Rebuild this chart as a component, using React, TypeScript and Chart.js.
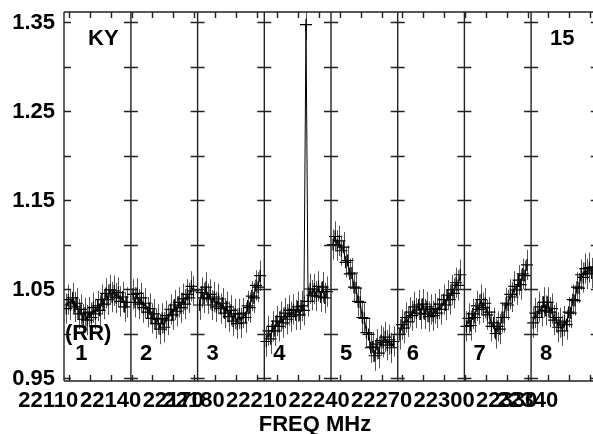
import React, { useEffect, useRef } from 'react';
import { Chart, registerables } from 'chart.js';

Chart.register(...registerables);

// ---- data ----
const PANEL_START_MHZ = [22117.7, 22149.7, 22181.7, 22213.7, 22245.7, 22277.7, 22309.7, 22341.7];
const PANEL_END_MHZ = 22373.7;
const CHANNEL_OFFSET_MHZ = [1, 2, 3, 4, 5, 6, 7, 8, 9, 10, 11, 12, 13, 14, 15, 16, 17, 18, 19, 20, 21, 22, 23, 24, 25, 26, 27, 28, 29, 30];
const PANEL_NAMES = ['1', '2', '3', '4', '5', '6', '7', '8'];

const P1 = [1.028, 1.038, 1.032, 1.040, 1.030, 1.034, 1.022, 1.027, 1.016, 1.023, 1.015, 1.024, 1.018, 1.029, 1.022, 1.031, 1.026, 1.038, 1.033, 1.045, 1.038, 1.049, 1.041, 1.048, 1.040, 1.046, 1.036, 1.041, 1.030, 1.035];
const P2 = [1.044, 1.035, 1.045, 1.033, 1.040, 1.029, 1.034, 1.024, 1.028, 1.017, 1.022, 1.011, 1.016, 1.005, 1.017, 1.007, 1.020, 1.015, 1.027, 1.021, 1.032, 1.025, 1.035, 1.029, 1.039, 1.033, 1.044, 1.040, 1.053, 1.048];
const P3 = [1.032, 1.046, 1.040, 1.052, 1.039, 1.044, 1.032, 1.041, 1.030, 1.039, 1.028, 1.034, 1.023, 1.030, 1.019, 1.026, 1.014, 1.022, 1.011, 1.022, 1.012, 1.023, 1.018, 1.031, 1.029, 1.042, 1.040, 1.054, 1.052, 1.065];
const P4 = [0.991, 1.003, 0.994, 1.008, 1.003, 1.014, 1.008, 1.019, 1.012, 1.023, 1.016, 1.026, 1.019, 1.027, 1.021, 1.030, 1.021, 1.031, 1.026, 1.347, 1.036, 1.050, 1.043, 1.050, 1.042, 1.053, 1.041, 1.052, 1.040, 1.047];
const P5 = [1.100, 1.109, 1.099, 1.104, 1.093, 1.097, 1.080, 1.082, 1.067, 1.068, 1.052, 1.051, 1.036, 1.035, 1.018, 1.017, 1.001, 0.999, 0.984, 0.985, 0.975, 0.988, 0.978, 0.992, 0.990, 0.996, 0.987, 0.993, 0.984, 0.991];
const P6 = [0.999, 1.010, 1.006, 1.018, 1.013, 1.024, 1.020, 1.030, 1.023, 1.032, 1.022, 1.033, 1.022, 1.030, 1.019, 1.027, 1.020, 1.028, 1.023, 1.033, 1.027, 1.038, 1.032, 1.043, 1.038, 1.049, 1.045, 1.057, 1.054, 1.066];
const P7 = [1.008, 1.017, 1.009, 1.022, 1.018, 1.031, 1.027, 1.038, 1.029, 1.034, 1.021, 1.024, 1.008, 1.012, 1.000, 1.008, 1.005, 1.018, 1.018, 1.034, 1.032, 1.044, 1.041, 1.053, 1.049, 1.060, 1.055, 1.067, 1.065, 1.077];
const P8 = [1.012, 1.023, 1.018, 1.030, 1.025, 1.035, 1.026, 1.035, 1.024, 1.028, 1.015, 1.018, 1.007, 1.012, 1.003, 1.014, 1.010, 1.024, 1.023, 1.038, 1.037, 1.052, 1.051, 1.066, 1.063, 1.073, 1.067, 1.074, 1.068, 1.075];
const PANEL_VALUES = [P1, P2, P3, P4, P5, P6, P7, P8];
const PANEL_ERR = [0.017, 0.017, 0.017, 0.017, 0.017, 0.017, 0.017, 0.017];

const X_MIN = 22117.6;
const X_MAX = 22371.4;
const Y_MIN = 0.94663;
const Y_MAX = 1.36124;
const X_TICK_MHZ = [22120, 22130, 22140, 22150, 22160, 22170, 22180, 22190, 22200, 22210, 22220, 22230, 22240, 22250, 22260, 22270, 22280, 22290, 22300, 22310, 22320, 22330, 22340, 22350, 22360, 22370];
const X_LABEL_MHZ = [22110, 22140, 22170, 22180, 22210, 22240, 22270, 22300, 22330, 22340];
const Y_TICKS = [0.95, 1.0, 1.05, 1.1, 1.15, 1.2, 1.25, 1.3, 1.35];
const Y_LABELS = [0.95, 1.05, 1.15, 1.25, 1.35];
const X_TITLE = 'FREQ MHz';
const SOURCE_NAME = 'KY';
const SCAN_NO = '15';
const POL = '(RR)';

const FONT = 'bold 22px "Liberation Sans", Arial, Helvetica, sans-serif';

const framePlugin = {
  id: 'framePlugin',
  beforeDatasetsDraw(chart: any) {
    const { ctx, chartArea: a } = chart;
    const ys = chart.scales.y;
    ctx.save();
    ctx.beginPath();
    ctx.rect(a.left, a.top, a.right - a.left, a.bottom - a.top);
    ctx.clip();
    ctx.strokeStyle = '#555';
    ctx.lineWidth = 1;
    PANEL_VALUES.forEach((vals, i) => {
      const meta = chart.getDatasetMeta(i);
      vals.forEach((v, k) => {
        const el = meta.data[k];
        if (!el) return;
        const px = Math.round(el.x) + 0.5;
        ctx.beginPath();
        ctx.moveTo(px, ys.getPixelForValue(v - PANEL_ERR[i]));
        ctx.lineTo(px, ys.getPixelForValue(v + PANEL_ERR[i]));
        ctx.stroke();
      });
    });
    ctx.restore();
  },
  afterDatasetsDraw(chart: any) {
    const { ctx, chartArea: a } = chart;
    const xs = chart.scales.x;
    const ys = chart.scales.y;
    ctx.save();
    ctx.strokeStyle = '#222';
    ctx.lineWidth = 1.4;
    // frame
    ctx.beginPath();
    ctx.moveTo(a.left, a.top);
    ctx.lineTo(a.right, a.top);
    ctx.moveTo(a.left, a.bottom);
    ctx.lineTo(a.right, a.bottom);
    ctx.moveTo(a.left, a.top);
    ctx.lineTo(a.left, a.bottom);
    ctx.stroke();
    // left axis ticks
    ctx.beginPath();
    Y_TICKS.forEach((t) => {
      const py = Math.round(ys.getPixelForValue(t)) + 0.5;
      ctx.moveTo(a.left, py);
      ctx.lineTo(a.left + 7, py);
    });
    ctx.stroke();
    // separators
    const seps = [...PANEL_START_MHZ.slice(1), PANEL_END_MHZ];
    seps.forEach((f) => {
      const sx = xs.getPixelForValue(f);
      ctx.beginPath();
      if (sx <= a.right) {
        ctx.moveTo(sx, a.top);
        ctx.lineTo(sx, a.bottom);
      }
      Y_TICKS.forEach((t) => {
        const py = Math.round(ys.getPixelForValue(t)) + 0.5;
        ctx.moveTo(Math.max(sx - 7, a.left), py);
        ctx.lineTo(Math.min(sx + 7, a.right), py);
      });
      ctx.stroke();
    });
    // top / bottom ticks
    ctx.beginPath();
    X_TICK_MHZ.forEach((f) => {
      const px = Math.round(xs.getPixelForValue(f)) + 0.5;
      if (px > a.right) return;
      ctx.moveTo(px, a.top);
      ctx.lineTo(px, a.top + 6);
      ctx.moveTo(px, a.bottom);
      ctx.lineTo(px, a.bottom - 6);
    });
    ctx.stroke();

    // text
    ctx.fillStyle = '#000';
    ctx.font = FONT;
    ctx.textAlign = 'right';
    ctx.textBaseline = 'middle';
    Y_LABELS.forEach((t) => {
      ctx.fillText(t.toFixed(2), a.left - 9, ys.getPixelForValue(t) + 1);
    });
    ctx.textAlign = 'center';
    ctx.textBaseline = 'alphabetic';
    X_LABEL_MHZ.forEach((f) => {
      ctx.fillText(String(f), xs.getPixelForValue(f), a.bottom + 26);
    });
    ctx.fillText(X_TITLE, 315, a.bottom + 50);
    ctx.textAlign = 'left';
    ctx.fillText(SOURCE_NAME, 88, 45);
    ctx.fillText(SCAN_NO, 550, 45);
    ctx.fillText(POL, 65, 340);
    PANEL_NAMES.forEach((n, i) => {
      const sx = xs.getPixelForValue(PANEL_START_MHZ[i]);
      ctx.fillText(n, Math.max(sx, a.left) + (i === 0 ? 11 : 9), 360);
    });
    ctx.restore();
  },
};

export default function App() {
  const ref = useRef<HTMLCanvasElement | null>(null);
  useEffect(() => {
    if (!ref.current) return;
    const datasets = PANEL_VALUES.map((vals, i) => ({
      label: 'Panel ' + PANEL_NAMES[i],
      data: vals.map((v, k) => ({ x: PANEL_START_MHZ[i] + CHANNEL_OFFSET_MHZ[k], y: v })),
      borderColor: '#000',
      borderWidth: 1,
      pointStyle: 'cross' as const,
      pointRadius: 6,
      pointBorderColor: '#000',
      pointBorderWidth: 1.2,
      pointBackgroundColor: '#000',
      fill: false,
      tension: 0,
    }));
    const chart = new Chart(ref.current, {
      type: 'line',
      data: { datasets },
      options: {
        animation: false,
        responsive: false,
        devicePixelRatio: 1,
        layout: { autoPadding: false, padding: { left: 64, top: 12, right: 0, bottom: 53 } },
        plugins: { legend: { display: false }, tooltip: { enabled: false } },
        scales: {
          x: { type: 'linear', min: X_MIN, max: X_MAX, display: false },
          y: { type: 'linear', min: Y_MIN, max: Y_MAX, display: false },
        },
      },
      plugins: [framePlugin],
    });
    return () => chart.destroy();
  }, []);
  return (
    <div style={{ position: 'absolute', left: 0, top: 0, width: 593, height: 434, background: '#fff' }}>
      <canvas ref={ref} width={593} height={434} />
    </div>
  );
}
